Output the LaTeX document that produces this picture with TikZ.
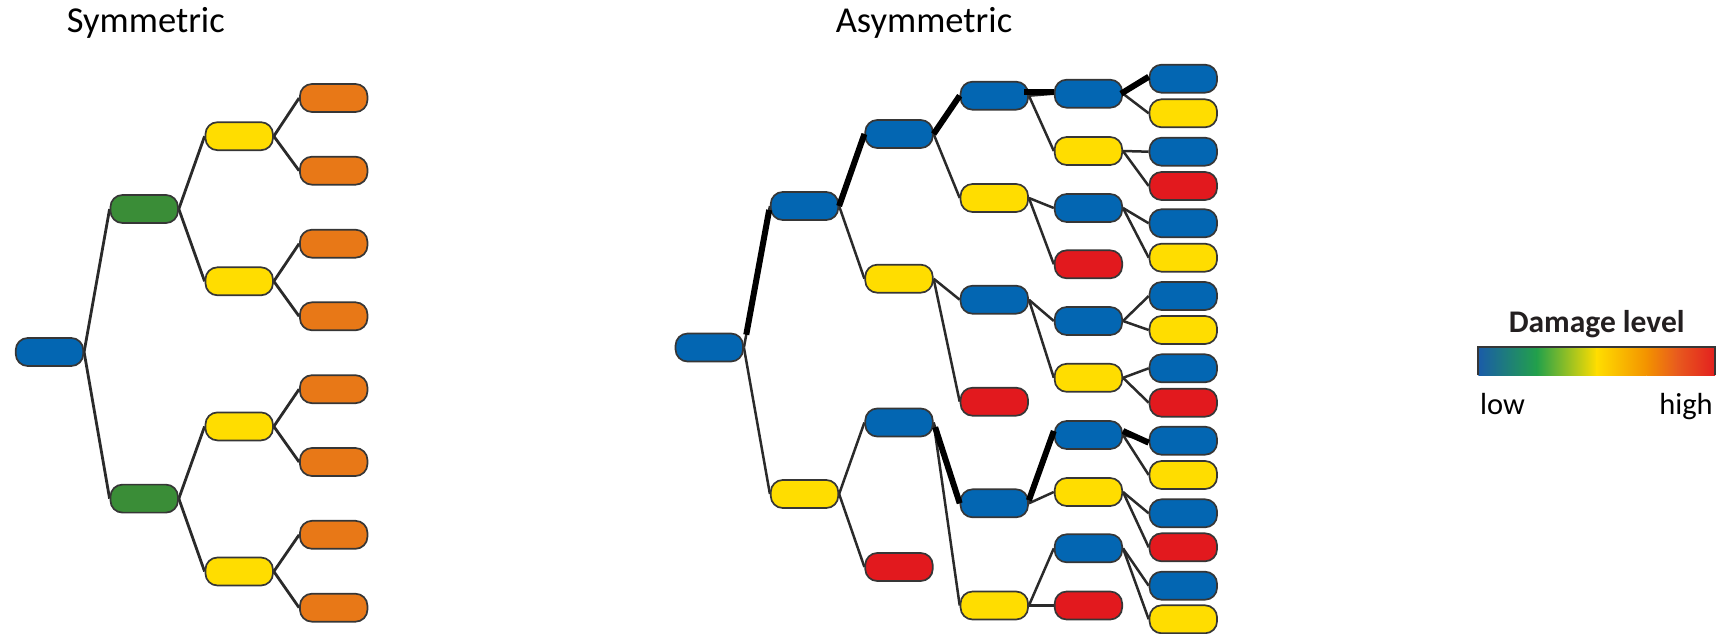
\documentclass[tikz,border=0pt]{standalone}
\usepackage{fontspec}
\setmainfont{Carlito}
\pgfdeclarelayer{bg}
\pgfsetlayers{bg,main}

\definecolor{cblue}{HTML}{0366B2}
\definecolor{cgreen}{HTML}{3A8D37}
\definecolor{cyellow}{HTML}{FFDD00}
\definecolor{corange}{HTML}{E87817}
\definecolor{cred}{HTML}{E2191E}
\definecolor{rim}{HTML}{363636}
\definecolor{wire}{HTML}{2A2A2A}
\definecolor{inkdark}{HTML}{231F20}
\definecolor{gblue}{HTML}{1A5CA8}
\definecolor{ggreen}{HTML}{22A04B}
\definecolor{gyellow}{HTML}{FFDD00}
\definecolor{gorange}{HTML}{F39200}
\definecolor{gredor}{HTML}{E85A1E}
\definecolor{gred}{HTML}{E3201F}

\begin{document}
\begin{tikzpicture}[x=1pt,y=-1pt,
  box/.style={rectangle, rounded corners=12pt, minimum width=67.5pt,
    minimum height=28pt, inner sep=0pt, draw=rim, line width=1.7pt},
  bl/.style={box, fill=cblue},
  gr/.style={box, fill=cgreen},
  ye/.style={box, fill=cyellow},
  orn/.style={box, fill=corange},
  rd/.style={box, fill=cred},
  link/.style={draw=wire, line width=2.8pt},
  alink/.style={draw=wire, line width=2.5pt},
  trail/.style={draw=black, line width=6pt},
  title/.style={anchor=base, inner sep=0pt, font=\fontsize{36.5}{40}\selectfont},
  scalelbl/.style={anchor=base, inner sep=0pt, font=\fontsize{30.5}{34}\selectfont}
]
\useasboundingbox (0,0) rectangle (1734,634);

% ---------- titles ----------
\node[title] (tsym) at (145.8,33) {Symmetric};
\node[title] (tasym) at (924,33) {Asymmetric};

% ---------- symmetric tree ----------
\node[bl] (s0) at (49.5,352) {};
\node[gr] (g1) at (144.2,209) {};
\node[gr] (g2) at (144.2,498.6) {};
\node[ye] (y1) at (239.2,136.2) {};
\node[ye] (y2) at (239.2,281.3) {};
\node[ye] (y3) at (239.2,426.4) {};
\node[ye] (y4) at (239.2,571.5) {};
\foreach \i/\yy in {1/98,2/170.7,3/243.7,4/316.3,5/389.2,6/462,7/534.8,8/607.7}
  \node[orn] (o\i) at (333.7,\yy) {};

\begin{pgfonlayer}{bg}
  \foreach \a/\b in {s0/g1,s0/g2,g1/y1,g1/y2,g2/y3,g2/y4,
                     y1/o1,y1/o2,y2/o3,y2/o4,y3/o5,y3/o6,y4/o7,y4/o8}
    \draw[link] (\a.east) -- (\b.west);
\end{pgfonlayer}

% ---------- asymmetric tree ----------
\node[bl] (r) at (709.3,347.5) {};
\node[bl] (a1) at (804.5,206) {};
\node[ye] (a2) at (804.5,494) {};
\node[bl] (b1) at (899,134) {};
\node[ye] (b2) at (899,278.7) {};
\node[bl] (b3) at (899,422.5) {};
\node[rd] (b4) at (899,567) {};
\node[bl] (c1) at (994.3,95.7) {};
\node[ye] (c2) at (994.3,198) {};
\node[bl] (c3) at (994.3,299.7) {};
\node[rd] (c4) at (994.3,401.7) {};
\node[bl] (c5) at (994.3,503.3) {};
\node[ye] (c6) at (994.3,605.5) {};
\node[bl] (d1) at (1088.4,93.7) {};
\node[ye] (d2) at (1088.4,151) {};
\node[bl] (d3) at (1088.4,208) {};
\node[rd] (d4) at (1088.4,264.3) {};
\node[bl] (d5) at (1088.4,321) {};
\node[ye] (d6) at (1088.4,377.8) {};
\node[bl] (d7) at (1088.4,435) {};
\node[ye] (d8) at (1088.4,492) {};
\node[bl] (d9) at (1088.4,548.3) {};
\node[rd] (d10) at (1088.4,605.5) {};
\foreach \i/\yy/\st in {1/78.7/bl,2/113.3/ye,3/151.7/bl,4/186/rd,
                        5/223.3/bl,6/257.7/ye,7/296/bl,8/330/ye,
                        9/368.3/bl,10/402.7/rd,11/440.7/bl,12/475/ye,
                        13/513.3/bl,14/547.3/rd,15/585.7/bl,16/619.3/ye}
  \node[\st] (e\i) at (1183.3,\yy) {};

\begin{pgfonlayer}{bg}
  \foreach \a/\b in {r/a1,r/a2,a1/b1,a1/b2,a2/b3,a2/b4,
                     b1/c1,b1/c2,b2/c3,b2/c4,b3/c5,b3/c6,
                     c1/d1,c1/d2,c2/d3,c2/d4,c3/d5,c3/d6,c5/d7,c5/d8,c6/d9,c6/d10,
                     d1/e1,d1/e2,d2/e3,d2/e4,d3/e5,d3/e6,d5/e7,d5/e8,
                     d6/e9,d6/e10,d7/e11,d7/e12,d8/e13,d8/e14,d9/e15,d9/e16}
    \draw[alink] (\a.east) -- (\b.west);
\end{pgfonlayer}

% highlighted lineages
\draw[trail, shorten <=13pt, shorten >=4pt] (r.east) -- (a1.west);
\draw[trail] (a1.east) -- (b1.west);
\draw[trail] (b1.east) -- (c1.west);
\draw[trail, shorten <=-5pt] ([yshift=3.5pt]c1.east) -- ([yshift=1.5pt]d1.west);
\draw[trail] ([xshift=-2pt]d1.east) -- ([yshift=2pt]e1.west);
\draw[trail, shorten <=5pt] (b3.east) -- (c5.west);
\draw[trail] ([yshift=3pt]c5.east) -- ([yshift=4pt]d7.west);
\draw[trail] ([yshift=4pt]d7.east) -- ([yshift=-2pt]e11.west);

% ---------- damage scale ----------
\node[anchor=base, inner sep=0pt, text=inkdark,
      font=\fontsize{31.5}{34}\selectfont\bfseries] (dmg) at (1596.7,332.7) {Damage level};
\coordinate (barBL) at (1478.3,375.3);
\coordinate (barTL) at (1478.3,346.7);
\coordinate (barTR) at (1715,346.7);
\coordinate (barBR) at (1715,375.3);
\shade[left color=gblue, right color=ggreen] (1478.3,346.7) rectangle (1536.8,375.3);
\shade[left color=ggreen, right color=gyellow] (1536.5,346.7) rectangle (1597,375.3);
\shade[left color=gyellow, right color=gorange] (1596.7,346.7) rectangle (1646.7,375.3);
\shade[left color=gorange, right color=gredor] (1646.4,346.7) rectangle (1677.4,375.3);
\shade[left color=gredor, right color=gred] (1677.1,346.7) rectangle (1715,375.3);
\draw[draw=rim, line width=2pt] (barBL) -- (barTL) -- (barTR) -- (barBR);
\node[scalelbl] (lo) at (1502.5,414) {low};
\node[scalelbl] (hi) at (1686,414) {high};
\end{tikzpicture}
\end{document}
